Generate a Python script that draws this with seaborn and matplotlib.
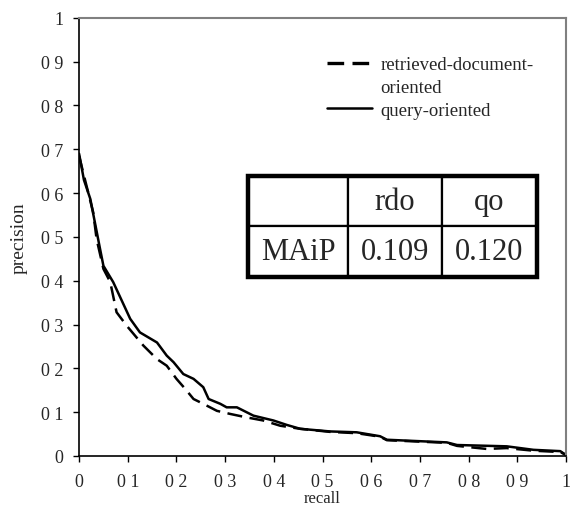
import numpy as np
import pandas as pd
import matplotlib
matplotlib.use('Agg')
import matplotlib.pyplot as plt
from matplotlib.lines import Line2D
import seaborn as sns

# Data
rdo_recall = [0.0, 0.01, 0.029, 0.036, 0.05, 0.064, 0.077, 0.098, 0.132, 0.16, 0.18, 0.2, 0.218,
              0.235, 0.255, 0.283, 0.31, 0.344, 0.378, 0.413, 0.454, 0.515, 0.57, 0.618, 0.632,
              0.755, 0.776, 0.837, 0.878, 0.933, 0.988, 1.0]
rdo_precision = [0.685, 0.64, 0.556, 0.495, 0.427, 0.397, 0.328, 0.297, 0.252, 0.221, 0.206, 0.176,
                 0.153, 0.13, 0.119, 0.103, 0.096, 0.088, 0.081, 0.069, 0.062, 0.055, 0.052, 0.044,
                 0.036, 0.03, 0.023, 0.016, 0.018, 0.012, 0.009, 0.002]

qo_recall = [0.0, 0.01, 0.023, 0.043, 0.05, 0.07, 0.105, 0.125, 0.16, 0.18, 0.194, 0.214, 0.235,
             0.255, 0.266, 0.29, 0.303, 0.324, 0.358, 0.399, 0.426, 0.454, 0.515, 0.57, 0.618,
             0.632, 0.755, 0.776, 0.878, 0.933, 0.988, 1.0]
qo_precision = [0.69, 0.63, 0.587, 0.473, 0.434, 0.397, 0.313, 0.282, 0.259, 0.229, 0.214, 0.187,
                0.176, 0.157, 0.13, 0.119, 0.111, 0.111, 0.092, 0.081, 0.071, 0.062, 0.056, 0.054,
                0.045, 0.037, 0.031, 0.025, 0.022, 0.014, 0.011, 0.002]

table_cols = ['', 'rdo', 'qo']
table_rows = [['MAiP', '0.109', '0.120']]

df = pd.concat([
    pd.DataFrame({'recall': rdo_recall, 'precision': rdo_precision, 'run': 'rdo'}),
    pd.DataFrame({'recall': qo_recall, 'precision': qo_precision, 'run': 'qo'}),
])

sns.set_style('white')
plt.rcParams['font.family'] = ['Liberation Serif', 'DejaVu Serif']

fig = plt.figure(figsize=(5.73, 5.10), dpi=100)
ax = fig.add_axes([0.138, 0.104, 0.85, 0.859])

sns.lineplot(data=df, x='recall', y='precision', hue='run', style='run',
             palette=['black', 'black'], dashes={'rdo': (6, 3), 'qo': ''},
             linewidth=1.8, sort=False, estimator=None, legend=False, ax=ax)

ax.set_xlim(0, 1)
ax.set_ylim(0, 1)
ticks = np.round(np.arange(0, 1.01, 0.1), 1)

def lab(v):
    if v == 0:
        return '0'
    if v == 1:
        return '1'
    return '0 %d' % round(v * 10)

ax.set_xticks(ticks)
ax.set_yticks(ticks)
ax.set_xticklabels([lab(v) for v in ticks], fontsize=13)
ax.set_yticklabels([lab(v) for v in ticks], fontsize=13)
ax.tick_params(direction='out', length=4.5, width=1, color='black', bottom=True, left=True)
ax.tick_params(axis='x', pad=8)
ax.tick_params(axis='y', pad=7)
ax.set_xlabel('recall', fontsize=12, labelpad=0)
ax.set_ylabel('precision', fontsize=14, labelpad=9)

for s in ['left', 'bottom']:
    ax.spines[s].set_color('black')
    ax.spines[s].set_linewidth(1.2)
for s in ['top', 'right']:
    ax.spines[s].set_color('#808080')
    ax.spines[s].set_linewidth(1.5)

handles = [Line2D([], [], color='black', lw=2.4, dashes=(5, 2.5)),
           Line2D([], [], color='none'),
           Line2D([], [], color='black', lw=1.8)]
ax.legend(handles, ['retrieved-document-', 'oriented', 'query-oriented'],
          loc='upper left', bbox_to_anchor=(0.509, 0.913), frameon=False, fontsize=13.5,
          handlelength=2.4, handletextpad=0.45, labelspacing=0.3, borderpad=0,
          borderaxespad=0)

# MAiP table
tx, ty, tw, th = 0.347, 0.409, 0.593, 0.230
tbl = ax.table(cellText=[table_cols] + table_rows, cellLoc='center',
               colWidths=[0.346, 0.325, 0.329], bbox=[tx, ty, tw, th])
tbl.auto_set_font_size(False)
for (r, c), cell in tbl.get_celld().items():
    cell.set_linewidth(1.6)
    cell.set_edgecolor('black')
    cell.get_text().set_fontsize(22)
outer = plt.Rectangle((tx, ty), tw, th, transform=ax.transAxes,
                      fill=False, lw=3.2, ec='black', zorder=10)
ax.add_patch(outer)

fig.savefig('out.png', dpi=100)
